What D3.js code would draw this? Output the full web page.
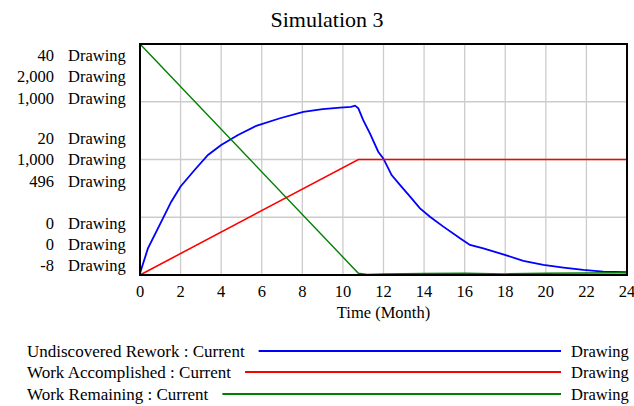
<!DOCTYPE html>
<html>
<head>
<meta charset="utf-8">
<script src="https://cdn.jsdelivr.net/npm/d3@7"></script>
<style>
  body { margin: 0; background: #fff; }
</style>
</head>
<body>
<div id="chart"></div>
<script>
// data
var reworkT = [0, 0.39, 1.05, 1.54, 2.0, 2.69, 3.35, 4.0, 4.83, 5.73, 6.9, 8.05, 9.0, 9.86, 10.4, 10.6, 10.76, 11.0, 11.33, 11.74, 11.99, 12.4, 12.81, 13.31, 13.8, 14.29, 14.95, 15.77, 16.26, 16.92, 17.9, 18.89, 19.88, 20.87, 21.85, 22.83, 24];
var reworkV = [0, 108, 225, 312, 378, 450, 516, 559, 603, 643, 676, 704, 716, 722, 726, 731, 719, 668, 610, 530, 501, 428, 385, 334, 283, 246, 203, 152, 123, 108, 82, 54, 36, 24, 14, 6.5, 4];
var accompT = [0, 10.76, 24];
var accompV = [0, 1000, 1000];
var remainT = [0, 10.76, 11.2, 12, 14, 16, 18, 20, 22, 24];
var remainV = [40, 0.3, 0.1, 0.2, 0.25, 0.3, 0.2, 0.3, 0.35, 0.4];

var seriesNames = ["Undiscovered Rework : Current", "Work Accomplished : Current", "Work Remaining : Current"];
var seriesColors = ["#0000ff", "#ff0000", "#008000"];
var unit = "Drawing";
// y axis domains: stacked label order is remaining, accomplished, rework
var remainDomain = [0, 40];
var accompDomain = [0, 2000];
var reworkDomain = [-8, 1000];
var xTicks = d3.range(0, 25, 2);

var W = 634, H = 406;
var pL = 140, pR = 627, pT = 44, pB = 275;

var svg = d3.select("#chart").append("svg")
    .attr("width", W).attr("height", H)
    .attr("font-family", "'Liberation Serif', 'Times New Roman', 'DejaVu Serif', serif");

var x = d3.scaleLinear().domain([0, 24]).range([pL, pR]);
var yRemain = d3.scaleLinear().domain(remainDomain).range([pB, pT]);
var yAccomp = d3.scaleLinear().domain(accompDomain).range([pB, pT]);
var yRework = d3.scaleLinear().domain(reworkDomain).range([pB, pT]);

svg.append("text")
    .attr("x", 327).attr("y", 27)
    .attr("text-anchor", "middle")
    .attr("font-size", 22)
    .text("Simulation 3");

// grid
var grid = svg.append("g");
grid.selectAll("line.v").data(xTicks.slice(1, -1)).enter().append("line")
    .attr("x1", d => x(d)).attr("x2", d => x(d))
    .attr("y1", pT).attr("y2", pB)
    .attr("stroke", "#cccccc").attr("stroke-width", 1.3);
var yGridFrac = [0.25, 0.5, 0.75];
grid.selectAll("line.h").data(yGridFrac).enter().append("line")
    .attr("x1", pL).attr("x2", pR)
    .attr("y1", d => pT + d * (pB - pT)).attr("y2", d => pT + d * (pB - pT))
    .attr("stroke", "#cccccc").attr("stroke-width", 1.3);

// lines
function pts(ts, vs) { return ts.map((t, i) => [t, vs[i]]); }
var scales = [yRework, yAccomp, yRemain];
var data = [pts(reworkT, reworkV), pts(accompT, accompV), pts(remainT, remainV)];
var widths = [1.8, 1.6, 1.4];
data.forEach(function(d, i) {
    var line = d3.line().x(p => x(p[0])).y(p => scales[i](p[1]));
    svg.append("path").datum(d)
        .attr("d", line)
        .attr("fill", "none")
        .attr("stroke", seriesColors[i])
        .attr("stroke-width", widths[i]);
});

// frame
svg.append("rect")
    .attr("x", pL).attr("y", pT)
    .attr("width", pR - pL).attr("height", pB - pT)
    .attr("fill", "none").attr("stroke", "#000").attr("stroke-width", 2);

// y labels: three stacked groups (top, middle, bottom)
var fmt = v => d3.format(",")(v).replace("\u2212", "-");
var yScalesOrder = [yRemain, yAccomp, yRework];
var groups = [
    { y: pT, offs: [11, 32.5, 54] },
    { y: (pT + pB) / 2, offs: [-21, 0, 22] },
    { y: pB, offs: [-52, -31, -10] }
];
groups.forEach(function(g) {
    yScalesOrder.forEach(function(s, i) {
        var v = Math.round(s.invert(g.y));
        var yy = g.y + g.offs[i] + 5.5;
        svg.append("text").attr("x", 54).attr("y", yy)
            .attr("text-anchor", "end").attr("font-size", 16.5).text(fmt(v));
        svg.append("text").attr("x", 68).attr("y", yy)
            .attr("font-size", 16.5).text(unit);
    });
});

// x axis labels
svg.selectAll("text.xt").data(xTicks).enter().append("text")
    .attr("x", d => x(d)).attr("y", 297)
    .attr("text-anchor", "middle").attr("font-size", 16.5)
    .text(d => d);
svg.append("text")
    .attr("x", (pL + pR) / 2).attr("y", 318)
    .attr("text-anchor", "middle").attr("font-size", 16.5)
    .text("Time (Month)");

// legend
var legY = [351, 372, 394];
seriesNames.forEach(function(name, i) {
    var t = svg.append("text").attr("x", 27).attr("y", legY[i] + 5.5)
        .attr("font-size", 17).text(name);
    var end = 27 + t.node().getComputedTextLength();
    svg.append("line")
        .attr("x1", end + 14).attr("x2", 561)
        .attr("y1", legY[i]).attr("y2", legY[i])
        .attr("stroke", seriesColors[i]).attr("stroke-width", 2);
    svg.append("text").attr("x", 571).attr("y", legY[i] + 5.5)
        .attr("font-size", 16.5).text(unit);
});
</script>
</body>
</html>
